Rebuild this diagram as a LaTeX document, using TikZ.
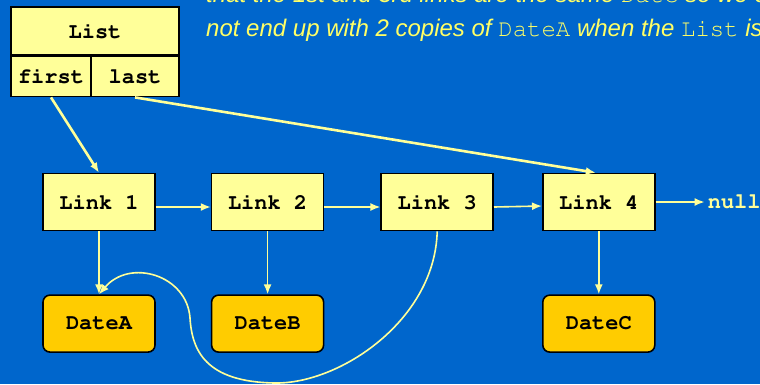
\documentclass[tikz,border=0pt]{standalone}
\usepackage{fontspec}
\setmainfont{Liberation Sans}
\setmonofont{Liberation Mono}
\usepackage{tikz}
\usetikzlibrary{arrows.meta,positioning}

\definecolor{slideblue}{HTML}{0066CC}
\definecolor{linkfill}{HTML}{FFFF99}
\definecolor{datefill}{HTML}{FFCC00}
\definecolor{wire}{HTML}{FFFF99}
\definecolor{notetext}{HTML}{FFFF66}

% Courier from the base fonts, for the boxes and the code words
\newcommand{\cour}{\fontencoding{T1}\fontfamily{pcr}\selectfont}
\newcommand{\code}[1]{{\cour\upshape #1}}

\begin{document}
\begin{tikzpicture}[
    x=1pt, y=-1pt,
    >={Latex[length=10pt,width=8pt]},
    base/.style={rectangle, draw=black, line width=1.6pt, inner sep=0pt,
                 font=\fontsize{22}{26}\cour\bfseries},
    head/.style={base, fill=linkfill, minimum width=168pt, minimum height=48pt},
    cell/.style={base, fill=linkfill, minimum height=40pt},
    link/.style={base, fill=linkfill, minimum width=112pt, minimum height=57pt},
    date/.style={base, fill=datefill, rounded corners=7pt, minimum width=112pt, minimum height=57pt},
    ptr/.style={wire, line width=1.6pt},
    field/.style={wire, line width=2.6pt},
    note/.style={notetext, anchor=base west, inner sep=0pt,
                 font=\itshape\fontsize{24}{33}\selectfont}
  ]

  \clip (0,0) rectangle (760,384);
  \fill[slideblue] (0,0) rectangle (760,384);

  % the List object and its two fields
  \node (list)   [head] at (95,31)                        {List};
  \node (first)  [cell, minimum width=80pt,
                  below right=0pt and 0pt of list.south west] {first};
  \node (last)   [cell, minimum width=88pt,
                  below left=0pt and 0pt of list.south east]  {last};

  % chain of links
  \node (link1)  [link] at (99,202)                       {Link 1};
  \node (link2)  [link, right=55pt of link1]              {Link 2};
  \node (link3)  [link, right=56pt of link2]              {Link 3};
  \node (link4)  [link, right=48pt of link3]              {Link 4};
  \node (null)   [right=49pt of link4, inner sep=3pt, text=wire,
                  font=\fontsize{22}{26}\cour\bfseries]   {null};

  % the dates the links point at
  \node (dateA)  [date, below=63pt of link1]              {DateA};
  \node (dateB)  [date, below=63pt of link2]              {DateB};
  \node (dateC)  [date, below=63pt of link4]              {DateC};

  % note text running off the top
  \node (line1)  [note] at (206,2)   {that the 1st and 3rd links are the same \code{Date} so we c};
  \node (line2)  [note] at (206,36)  {not end up with 2 copies of \code{DateA} when the \code{List} is};

  \path[->,field] (first.south) edge                       (link1.north);
  \path[->,field] (last.south)  edge                       ([xshift=-3pt]link4.north);

  \path[->,ptr]  ([yshift=-5pt]link1.east) edge            ([yshift=-5pt]link2.west);
  \path[->,ptr]  ([yshift=-5pt]link2.east) edge            ([yshift=-5pt]link3.west);
  \path[->,ptr]  ([yshift=-5pt]link3.east) edge            ([yshift=-4pt]link4.west);
  \path[->,ptr]  (link4.east)  edge                        (null.west);

  \path[->,ptr]  (link1)       edge                        (dateA);
  \path[->,ptr]  (link2)       edge                        (dateB);
  \path[->,ptr]  (link4)       edge                        (dateC);

  % link 3 shares DateA with link 1
  \draw[->,ptr]  (link3.south) .. controls (435,320) and (340,384) .. (275,383)
                               .. controls (205,382) and (192,350) .. (190,318)
                               .. controls (187,275) and (130,258) .. (dateA.north);
\end{tikzpicture}
\end{document}
